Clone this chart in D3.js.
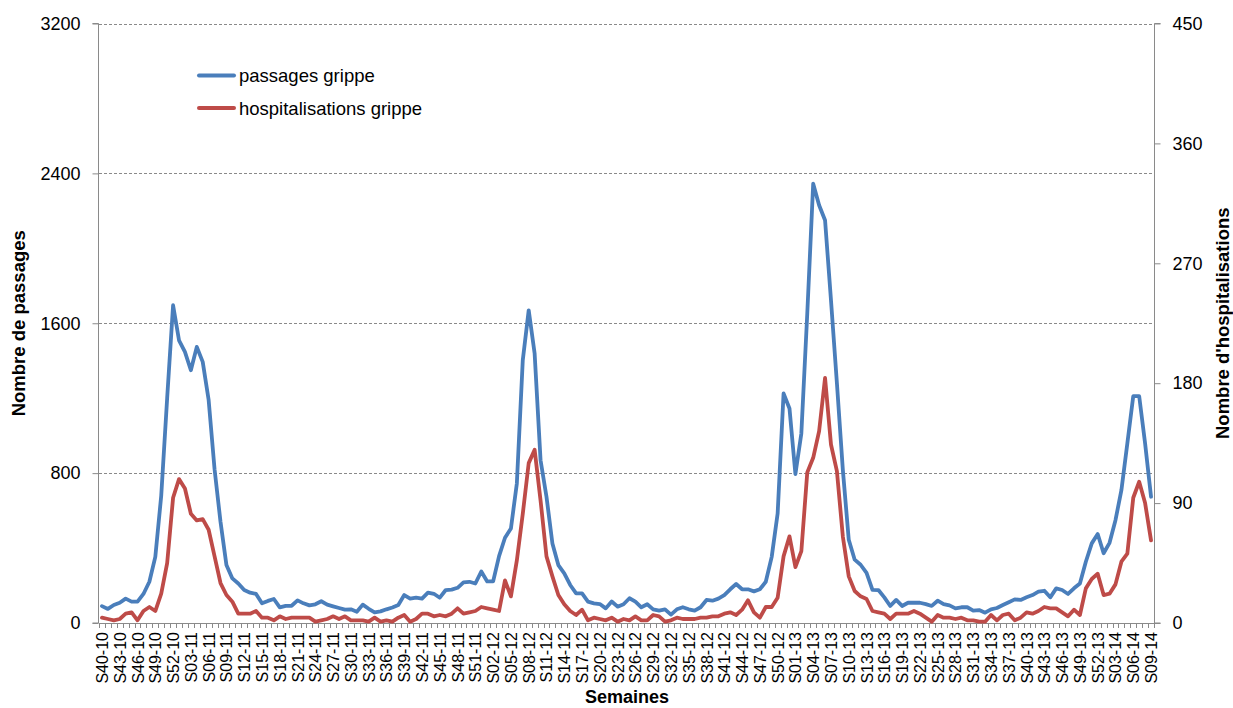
<!DOCTYPE html>
<html><head><meta charset="utf-8">
<script src="https://cdn.jsdelivr.net/npm/d3@7/dist/d3.min.js"></script>
<style>
body{margin:0;background:#fff;}
svg text{font-family:"Liberation Sans",Arial,sans-serif;fill:#000;}
</style>
</head><body>
<svg id="chart" width="1233" height="708"></svg>
<script>
// ---- Data ----
const weeks = [
 "S40-10","S41-10","S42-10","S43-10","S44-10","S45-10","S46-10","S47-10","S48-10","S49-10","S50-10","S51-10","S52-10",
 "S01-11","S02-11","S03-11","S04-11","S05-11","S06-11","S07-11","S08-11","S09-11","S10-11","S11-11","S12-11","S13-11",
 "S14-11","S15-11","S16-11","S17-11","S18-11","S19-11","S20-11","S21-11","S22-11","S23-11","S24-11","S25-11","S26-11",
 "S27-11","S28-11","S29-11","S30-11","S31-11","S32-11","S33-11","S34-11","S35-11","S36-11","S37-11","S38-11","S39-11",
 "S40-11","S41-11","S42-11","S43-11","S44-11","S45-11","S46-11","S47-11","S48-11","S49-11","S50-11","S51-11","S52-11",
 "S01-12","S02-12","S03-12","S04-12","S05-12","S06-12","S07-12","S08-12","S09-12","S10-12","S11-12","S12-12","S13-12",
 "S14-12","S15-12","S16-12","S17-12","S18-12","S19-12","S20-12","S21-12","S22-12","S23-12","S24-12","S25-12","S26-12",
 "S27-12","S28-12","S29-12","S30-12","S31-12","S32-12","S33-12","S34-12","S35-12","S36-12","S37-12","S38-12","S39-12",
 "S40-12","S41-12","S42-12","S43-12","S44-12","S45-12","S46-12","S47-12","S48-12","S49-12","S50-12","S51-12","S52-12",
 "S01-13","S02-13","S03-13","S04-13","S05-13","S06-13","S07-13","S08-13","S09-13","S10-13","S11-13","S12-13","S13-13",
 "S14-13","S15-13","S16-13","S17-13","S18-13","S19-13","S20-13","S21-13","S22-13","S23-13","S24-13","S25-13","S26-13",
 "S27-13","S28-13","S29-13","S30-13","S31-13","S32-13","S33-13","S34-13","S35-13","S36-13","S37-13","S38-13","S39-13",
 "S40-13","S41-13","S42-13","S43-13","S44-13","S45-13","S46-13","S47-13","S48-13","S49-13","S50-13","S51-13","S52-13",
 "S01-14","S02-14","S03-14","S04-14","S05-14","S06-14","S07-14","S08-14","S09-14"
];

const passages = [
 90,75,96,108,130,114,114,155,220,353,680,1200,1696,
 1509,1447,1349,1474,1394,1190,820,540,310,238,211,176,162,
 155,105,118,128,83,91,92,121,105,94,100,116,98,
 89,80,71,73,60,98,76,57,62,73,83,96,149,
 130,135,130,162,156,135,176,178,188,217,220,211,275,
 222,222,357,455,505,745,1403,1669,1438,869,674,425,309,
 265,203,158,158,114,105,101,78,115,87,100,132,114,
 84,100,73,66,73,45,73,84,73,66,84,123,119,
 130,149,180,208,180,180,169,180,220,353,584,1225,1145,
 795,1012,1652,2345,2230,2150,1724,1280,818,444,338,311,267,
 177,176,137,91,123,91,108,108,108,101,91,119,101,
 94,78,84,84,66,69,55,73,80,96,111,126,123,
 137,149,167,172,137,185,176,155,185,211,327,425,475,
 372,428,549,709,958,1211,1211,958,674
];

const hospitalisations = [
 4,3,2,3,7,8,2,9,12,9,22,45,94,
 108,101,82,77,78,70,50,30,21,16,7,7,7,
 9,4,4,2,5,3,4,4,4,4,1,2,3,
 5,3,5,2,2,2,1,4,1,2,1,4,6,
 1,3,7,7,5,6,5,7,11,7,8,9,12,
 11,10,9,32,20,47,82,120,130,92,50,35,21,
 14,9,6,10,2,4,3,2,4,1,3,2,5,
 2,2,6,5,1,2,4,3,3,3,4,4,5,
 5,7,8,6,10,17,8,4,12,12,19,50,65,
 42,54,113,124,144,184,134,114,65,35,24,20,18,
 9,8,7,3,7,7,7,9,7,4,1,6,4,
 4,3,4,2,2,1,1,6,2,6,7,2,4,
 8,7,9,12,11,11,8,5,10,6,26,33,37,
 21,22,29,46,52,94,106,90,62
];

const leftTicks = [0, 800, 1600, 2400, 3200];
const rightTicks = [0, 90, 180, 270, 360, 450];
const seriesNames = ["passages grippe", "hospitalisations grippe"];
const seriesColors = ["#4A7EBB", "#BE4B48"];

// ---- Layout ----
const svg = d3.select("#chart");
const L = 99, R = 1154, T = 23.5, B = 623;
const FONT = '"Liberation Sans",Arial,sans-serif';

const x = d3.scaleBand().domain(weeks).range([L, R]).paddingInner(0).paddingOuter(0);
const bw = x.bandwidth();
const yL = d3.scaleLinear().domain([0, 3200]).range([B, T]);
const yR = d3.scaleLinear().domain([0, 450]).range([B, T]);

// gridlines
svg.append("g").selectAll("line").data(leftTicks.filter(d => d > 0)).join("line")
  .attr("x1", L).attr("x2", R)
  .attr("y1", d => Math.round(yL(d)) + 0.5).attr("y2", d => Math.round(yL(d)) + 0.5)
  .attr("stroke", "#8a8a8a").attr("stroke-width", 1).attr("stroke-dasharray", "3,2");

// left axis
const axL = svg.append("g").attr("transform", `translate(${L - 0.5},0)`)
  .call(d3.axisLeft(yL).tickValues(leftTicks).tickSize(6).tickPadding(12).tickFormat(d3.format("d")));
axL.select(".domain").attr("stroke", "#8a8a8a").attr("d", `M-6,${B}H0V${T}H-6`);
axL.selectAll(".tick line").attr("stroke", "#8a8a8a");
axL.selectAll(".tick text").style("font-family", FONT).style("font-size", "18px").attr("fill", "#000");

// right axis
const axR = svg.append("g").attr("transform", `translate(${R + 0.5},0)`)
  .call(d3.axisRight(yR).tickValues(rightTicks).tickSize(6).tickPadding(12));
axR.select(".domain").attr("stroke", "#8a8a8a").attr("d", `M6,${B}H0V${T}H6`);
axR.selectAll(".tick line").attr("stroke", "#8a8a8a");
axR.selectAll(".tick text").style("font-family", FONT).style("font-size", "18px").attr("fill", "#000");

// bottom axis line + boundary ticks
svg.append("line").attr("x1", L).attr("x2", R).attr("y1", B + 0.5).attr("y2", B + 0.5)
  .attr("stroke", "#8a8a8a");
const bounds = weeks.map(w => x(w)).concat([x(weeks[weeks.length - 1]) + bw]);
svg.append("g").selectAll("line").data(bounds).join("line")
  .attr("x1", d => Math.round(d) + 0.5).attr("x2", d => Math.round(d) + 0.5)
  .attr("y1", B).attr("y2", B + 5).attr("stroke", "#8a8a8a");

// x labels (every 3rd week)
const axB = svg.append("g").attr("transform", `translate(0,${B})`)
  .call(d3.axisBottom(x).tickValues(weeks.filter((w, i) => i % 3 === 0)).tickSize(0).tickPadding(0));
axB.select(".domain").remove();
axB.selectAll(".tick text")
  .style("font-family", FONT).style("font-size", "16px").attr("fill", "#000")
  .attr("text-anchor", "end").attr("y", 0).attr("dy", 0)
  .attr("transform", "translate(6,9) rotate(-90)");

// lines
const lineL = d3.line().x((d, i) => x(weeks[i]) + bw / 2).y(d => yL(d));
const lineR = d3.line().x((d, i) => x(weeks[i]) + bw / 2).y(d => yR(d));
svg.append("path").datum(hospitalisations).attr("d", lineR)
  .attr("fill", "none").attr("stroke", seriesColors[1]).attr("stroke-width", 3.8)
  .attr("stroke-linejoin", "round").attr("stroke-linecap", "round");
svg.append("path").datum(passages).attr("d", lineL)
  .attr("fill", "none").attr("stroke", seriesColors[0]).attr("stroke-width", 3.8)
  .attr("stroke-linejoin", "round").attr("stroke-linecap", "round");

// legend
const lg = svg.append("g");
seriesNames.forEach((n, i) => {
  const yy = 75.5 + i * 32.5;
  lg.append("line").attr("x1", 199).attr("x2", 234).attr("y1", yy).attr("y2", yy)
    .attr("stroke", seriesColors[i]).attr("stroke-width", 4).attr("stroke-linecap", "round");
  lg.append("text").attr("x", 239).attr("y", yy + 6.5).text(n)
    .style("font-family", FONT).style("font-size", "18.5px");
});

// axis titles
svg.append("text").attr("transform", `translate(25,${(T + B) / 2}) rotate(-90)`)
  .attr("text-anchor", "middle").style("font-family", FONT).style("font-size", "18.5px")
  .style("font-weight", "bold").text("Nombre de passages");
svg.append("text").attr("transform", `translate(1229,${(T + B) / 2}) rotate(-90)`)
  .attr("text-anchor", "middle").style("font-family", FONT).style("font-size", "18.5px")
  .style("font-weight", "bold").text("Nombre d'hospitalisations");
svg.append("text").attr("x", 627).attr("y", 703)
  .attr("text-anchor", "middle").style("font-family", FONT).style("font-size", "18px")
  .style("font-weight", "bold").text("Semaines");
</script>
</body></html>
